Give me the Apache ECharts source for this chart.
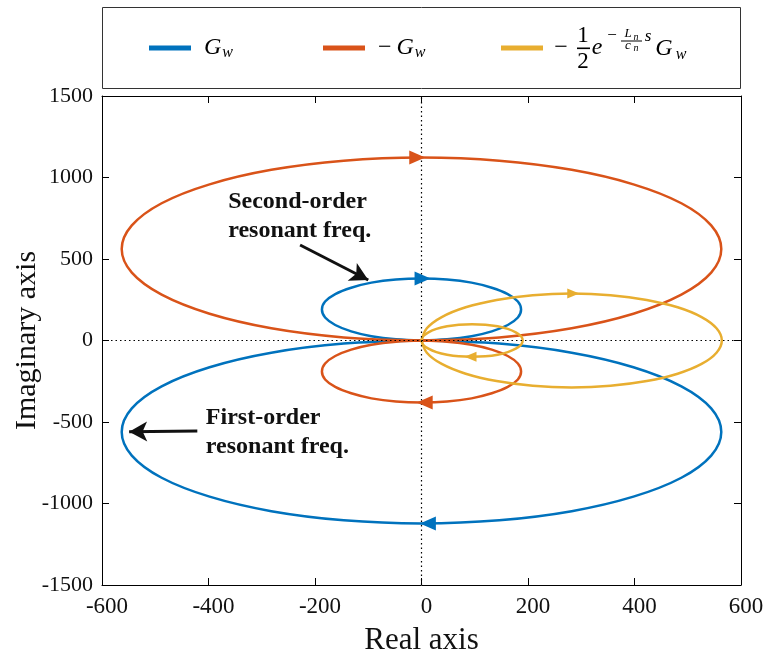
<!DOCTYPE html>
<html>
<head>
<meta charset="utf-8">
<script src="https://cdn.jsdelivr.net/npm/echarts@6/dist/echarts.min.js"></script>
<style>
html,body{margin:0;padding:0;background:#fff;}
#chart{width:766px;height:665px;}
</style>
</head>
<body>
<div id="chart"></div>
<script>
// ---- data (real part, imaginary part) ----
const seriesNames = ['G_w', '-G_w', '-1/2 e^{-(Ln/cn)s} G_w'];
const xTicks = [-600, -400, -200, 0, 200, 400, 600];
const yTicks = [-1500, -1000, -500, 0, 500, 1000, 1500];

const blueSmall = [[0,0],[-48,7],[-94,26],[-132,56],[-162,95],[-181,141],[-187,190],[-181,239],[-162,285],[-132,324],[-94,355],[-48,374],[0,380],[48,374],[94,355],[132,324],[162,285],[181,239],[187,190],[181,141],[162,95],[132,56],[94,26],[48,7],[0,0]];
const blueBig = [[0,0],[146,-19],[282,-75],[398,-164],[488,-281],[544,-416],[563,-561],[544,-706],[488,-842],[398,-958],[282,-1047],[146,-1103],[0,-1122],[-146,-1103],[-282,-1047],[-398,-958],[-488,-842],[-544,-706],[-563,-561],[-544,-416],[-488,-281],[-398,-164],[-282,-75],[-146,-19],[0,0]];
const redBig = [[0,0],[-146,19],[-282,75],[-398,164],[-488,281],[-544,416],[-563,561],[-544,706],[-488,842],[-398,958],[-282,1047],[-146,1103],[0,1122],[146,1103],[282,1047],[398,958],[488,842],[544,706],[563,561],[544,416],[488,281],[398,164],[282,75],[146,19],[0,0]];
const redSmall = [[0,0],[48,-7],[94,-26],[132,-56],[162,-95],[181,-141],[187,-190],[181,-239],[162,-285],[132,-324],[94,-355],[48,-374],[0,-380],[-48,-374],[-94,-355],[-132,-324],[-162,-285],[-181,-239],[-187,-190],[-181,-141],[-162,-95],[-132,-56],[-94,-26],[-48,-7],[0,0]];
const yellowBig = [[0,0],[10,75],[38,144],[83,204],[141,249],[209,278],[282,288],[355,278],[423,249],[481,204],[526,144],[554,75],[564,0],[554,-75],[526,-144],[481,-204],[423,-249],[355,-278],[282,-288],[209,-278],[141,-249],[83,-204],[38,-144],[10,-75],[0,0]];
const yellowSmall = [[0,0],[3,26],[13,50],[28,71],[48,87],[70,97],[95,100],[120,97],[143,87],[162,71],[177,50],[187,26],[190,0],[187,-26],[177,-50],[162,-71],[143,-87],[120,-97],[95,-100],[70,-97],[48,-87],[28,-71],[13,-50],[3,-26],[0,0]];

// direction arrows: [x, y, direction]
const blueArrows = [[12,-1122,'left'],[2,380,'right']];
const redArrows = [[-8,1122,'right'],[6,-380,'left']];
const yellowArrows = [[285,288,'right'],[92,-100,'left']];

// annotations
const annoTexts = [
  {pos:[-363,939], text:'Second-order\nresonant freq.'},
  {pos:[-405,-387], text:'First-order\nresonant freq.'}
];
const annoArrows = [
  [[-228,586],[-100,371]],
  [[-421,-555],[-549,-560]]
];

const C_BLUE = '#0072BD', C_RED = '#D95319', C_YEL = '#E8AE30';
const SERIF = '"Liberation Serif", "Times New Roman", serif';

const chart = echarts.init(document.getElementById('chart'), null, {renderer:'canvas'});

function lineSeries(name, data, color) {
  return {
    name: name, type: 'line', data: data, showSymbol: false, smooth: 0.35,
    lineStyle: {color: color, width: 2.5}, itemStyle: {color: color},
    xAxisIndex: 0, yAxisIndex: 0, z: 3, silent: true
  };
}
function arrowSeries(arr, color, size) {
  return {
    type: 'scatter', symbol: 'triangle', symbolSize: size, z: 5, silent: true,
    itemStyle: {color: color, opacity: 1},
    data: arr.map(a => ({value: [a[0], a[1]], symbolRotate: a[2] === 'right' ? -90 : 90}))
  };
}

const legendCommon = {
  top: 33, padding: 0, icon: 'rect', itemWidth: 42, itemHeight: 5,
  selectedMode: false, textStyle: {fontFamily: SERIF, fontSize: 24, color: '#000', lineHeight: 30}
};
const rich = {
  m: {fontFamily: SERIF, fontSize: 24, color: '#000', padding: [0, 5, 0, 8]},
  g0: {fontFamily: SERIF, fontStyle: 'italic', fontSize: 24, color: '#000', padding: [0, 0, 0, 8]},
  g: {fontFamily: SERIF, fontStyle: 'italic', fontSize: 24, color: '#000'},
  w: {fontFamily: SERIF, fontStyle: 'italic', fontSize: 16, color: '#000', padding: [10, 0, 0, 1]}
};

function txt(x, y, s, font) {
  return {type: 'text', x: x, y: y, style: {text: s, font: font + ' ' + SERIF, fill: '#000', align: 'center', verticalAlign: 'middle'}};
}

const option = {
  animation: false,
  backgroundColor: '#fff',
  grid: {left: 102, right: 25, top: 96, bottom: 80, containLabel: false, outerBoundsMode: 'none'},
  legend: [
    Object.assign({}, legendCommon, {left: 149, data: [seriesNames[0]],
      formatter: () => '{g0|G}{w|w}', textStyle: Object.assign({}, legendCommon.textStyle, {rich: rich})}),
    Object.assign({}, legendCommon, {left: 323, data: [seriesNames[1]],
      formatter: () => '{m|−}{g|G}{w|w}', textStyle: Object.assign({}, legendCommon.textStyle, {rich: rich})}),
    Object.assign({}, legendCommon, {left: 501, data: [seriesNames[2]],
      formatter: () => ' '})
  ],
  xAxis: [
    {type: 'value', min: xTicks[0], max: xTicks[xTicks.length-1], interval: 200, position: 'bottom',
     name: 'Real axis', nameLocation: 'middle', nameGap: 40, nameMoveOverlap: false,
     nameTextStyle: {fontFamily: SERIF, fontSize: 31, color: '#111'},
     axisLine: {show: true, onZero: false, lineStyle: {color: '#000', width: 1}},
     axisTick: {show: true, inside: true, length: 7, lineStyle: {color: '#000'}},
     axisLabel: {margin: 10, fontFamily: SERIF, fontSize: 23, color: '#111', padding: [0, 0, 0, 10],
       formatter: v => String(v)},
     splitLine: {show: false}},
    {type: 'value', min: xTicks[0], max: xTicks[xTicks.length-1], interval: 200, position: 'top',
     axisLine: {show: true, onZero: false, lineStyle: {color: '#000', width: 1}},
     axisTick: {show: true, inside: true, length: 7, lineStyle: {color: '#000'}},
     axisLabel: {show: false}, splitLine: {show: false}}
  ],
  yAxis: [
    {type: 'value', min: yTicks[0], max: yTicks[yTicks.length-1], interval: 500, position: 'left',
     name: 'Imaginary axis', nameLocation: 'middle', nameGap: 60, nameMoveOverlap: false,
     nameTextStyle: {fontFamily: SERIF, fontSize: 30, color: '#111'},
     axisLine: {show: true, onZero: false, lineStyle: {color: '#000', width: 1}},
     axisTick: {show: true, inside: true, length: 7, lineStyle: {color: '#000'}},
     axisLabel: {margin: 9, fontFamily: SERIF, fontSize: 22, color: '#111', formatter: v => String(v)},
     splitLine: {show: false}},
    {type: 'value', min: yTicks[0], max: yTicks[yTicks.length-1], interval: 500, position: 'right',
     axisLine: {show: true, onZero: false, lineStyle: {color: '#000', width: 1}},
     axisTick: {show: true, inside: true, length: 7, lineStyle: {color: '#000'}},
     axisLabel: {show: false}, splitLine: {show: false}}
  ],
  series: [
    Object.assign(lineSeries(seriesNames[0], blueSmall, C_BLUE), {
      markLine: {silent: true, symbol: 'none', label: {show: false}, animation: false,
        lineStyle: {type: [1.5, 3], color: '#000', width: 1.2},
        data: [{xAxis: 0}, {yAxis: 0}]}, z: 2}),
    lineSeries(seriesNames[0], blueBig, C_BLUE),
    lineSeries(seriesNames[1], redBig, C_RED),
    lineSeries(seriesNames[1], redSmall, C_RED),
    lineSeries(seriesNames[2], yellowBig, C_YEL),
    lineSeries(seriesNames[2], yellowSmall, C_YEL),
    arrowSeries(blueArrows, C_BLUE, [14, 16]),
    arrowSeries(redArrows, C_RED, [14, 16]),
    arrowSeries(yellowArrows, C_YEL, [10, 12]),
    {
      type: 'scatter', symbolSize: 0, silent: true, z: 6,
      itemStyle: {opacity: 1},
      data: annoTexts.map(a => ({value: a.pos, label: {formatter: a.text, color: '#111'}})),
      label: {show: true, position: [0, 0], align: 'left', verticalAlign: 'top', opacity: 1,
        fontFamily: SERIF, fontWeight: 'bold', fontSize: 24, lineHeight: 29, color: '#111'},
      markLine: {silent: true, animation: false, symbol: ['none', 'arrow'], symbolSize: [15, 18],
        label: {show: false},
        lineStyle: {color: '#111', width: 3, type: 'solid', opacity: 1},
        data: annoArrows.map(a => [{coord: a[0]}, {coord: a[1]}])}
    }
  ],
  graphic: [
    {type: 'rect', shape: {x: 102.5, y: 7.5, width: 638, height: 81}, z: 0,
     style: {fill: 'none', stroke: '#333', lineWidth: 1}},
    {type: 'group', z: 10, children: [
      txt(561, 48, '−', '24px'),
      txt(583, 36, '1', '23px'),
      {type: 'rect', shape: {x: 577, y: 47.5, width: 13, height: 1.6}, style: {fill: '#000'}},
      txt(583, 62, '2', '23px'),
      txt(597, 48, 'e', 'italic 24px'),
      txt(612, 36, '−', '17px'),
      txt(628, 34, 'L', 'italic 13px'),
      txt(636, 37, 'n', 'italic 10px'),
      {type: 'rect', shape: {x: 621, y: 40.5, width: 21, height: 1}, style: {fill: '#000'}},
      txt(628, 46, 'c', 'italic 13px'),
      txt(636, 48, 'n', 'italic 10px'),
      txt(648, 37, 's', 'italic 17px'),
      txt(664, 49, 'G', 'italic 24px'),
      txt(681, 55, 'w', 'italic 16px')
    ]}
  ]
};
chart.setOption(option);
</script>
</body>
</html>
